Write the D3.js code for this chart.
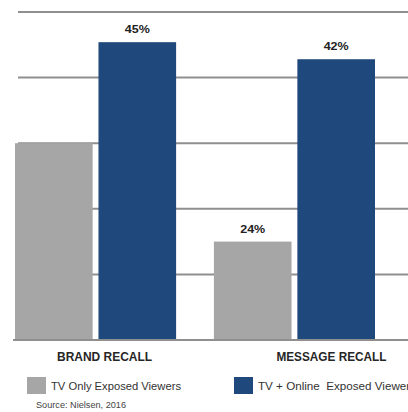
<!DOCTYPE html>
<html>
<head>
<meta charset="utf-8">
<script src="https://cdn.jsdelivr.net/npm/d3@7"></script>
<style>
  html, body { margin: 0; padding: 0; background: #fff; overflow: hidden; }
  svg { display: block; }
</style>
</head>
<body>
<script>
// ---- data ----
const categories = ["BRAND RECALL", "MESSAGE RECALL"];
const seriesNames = ["TV Only Exposed Viewers", "TV + Online  Exposed Viewers"];
const tvOnlyValues = [30, 15];        // bar heights as drawn
const tvOnlineValues = [45.4, 42.8];  // bar heights as drawn
const tvOnlyLabels = ["", "24%"];
const tvOnlineLabels = ["45%", "42%"];
const yTicks = [0, 10, 20, 30, 40, 50];
const sourceText = "Source: Nielsen, 2016";

const W = 408, H = 412;
const colors = ["#a6a6a6", "#1f487c"];

const svg = d3.select("body").append("svg").attr("width", W).attr("height", H);

const y = d3.scaleLinear().domain([0, 50]).range([340, 12]);
const x0 = d3.scaleBand().domain(categories).range([15, 375]).paddingInner(0.19).paddingOuter(0);
const x1 = d3.scaleBand().domain(seriesNames).range([0, x0.bandwidth()]).paddingInner(0.07);

// gridlines
svg.append("g").selectAll("line").data(yTicks.filter(t => t > 0)).join("line")
  .attr("x1", 18).attr("x2", W)
  .attr("y1", d => y(d)).attr("y2", d => y(d))
  .attr("stroke", "#8f8f8f").attr("stroke-width", 2);

const rows = categories.map((c, i) => ({
  cat: c,
  vals: [
    { s: seriesNames[0], v: tvOnlyValues[i], label: tvOnlyLabels[i], k: 0 },
    { s: seriesNames[1], v: tvOnlineValues[i], label: tvOnlineLabels[i], k: 1 }
  ]
}));

const groups = svg.append("g").selectAll("g").data(rows).join("g")
  .attr("transform", d => `translate(${x0(d.cat)},0)`);

groups.selectAll("rect").data(d => d.vals).join("rect")
  .attr("x", d => x1(d.s))
  .attr("y", d => y(d.v))
  .attr("width", x1.bandwidth())
  .attr("height", d => y(0) - y(d.v))
  .attr("fill", d => colors[d.k]);

groups.selectAll("text.val").data(d => d.vals.filter(v => v.label)).join("text")
  .attr("class", "val")
  .attr("x", d => x1(d.s) + x1.bandwidth() / 2)
  .attr("y", d => y(d.v) - 9)
  .attr("text-anchor", "middle")
  .attr("font-family", "'Liberation Sans Narrow', 'Liberation Sans', Arial, sans-serif")
  .attr("font-weight", "bold")
  .attr("font-size", 11.5)
  .attr("fill", "#222")
  .attr("textLength", 25).attr("lengthAdjust", "spacingAndGlyphs")
  .text(d => d.label);

// baseline
svg.append("line")
  .attr("x1", 13).attr("x2", W)
  .attr("y1", y(0)).attr("y2", y(0))
  .attr("stroke", "#8f8f8f").attr("stroke-width", 2);

// category labels
const catOffsets = [9, 37];
const catWidths = [95, 110];
svg.append("g").selectAll("text").data(categories).join("text")
  .attr("x", (d, i) => x0(d) + x0.bandwidth() / 2 + catOffsets[i] - catWidths[i] / 2)
  .attr("y", 361)
  .attr("font-family", "'Liberation Sans Narrow', 'Liberation Sans', Arial, sans-serif")
  .attr("font-weight", "bold")
  .attr("font-size", 12.5)
  .attr("fill", "#262626")
  .attr("textLength", (d, i) => catWidths[i]).attr("lengthAdjust", "spacingAndGlyphs")
  .text(d => d);

// legend
const legX = [27, 234];
const legW = [130, 158];
const leg = svg.append("g").selectAll("g").data(seriesNames).join("g")
  .attr("transform", (d, i) => `translate(${legX[i]},377)`);
leg.append("rect").attr("width", 19).attr("height", 17).attr("fill", (d, i) => colors[i]);
leg.append("text")
  .attr("x", 24).attr("y", 13)
  .attr("font-family", "'Liberation Sans Narrow', 'Liberation Sans', Arial, sans-serif")
  .attr("font-size", 11)
  .attr("fill", "#333")
  .attr("textLength", (d, i) => legW[i]).attr("lengthAdjust", "spacingAndGlyphs")
  .attr("xml:space", "preserve")
  .style("white-space", "pre")
  .text(d => d);

// source
svg.append("text")
  .attr("x", 36).attr("y", 408)
  .attr("font-family", "'Liberation Sans Narrow', 'Liberation Sans', Arial, sans-serif")
  .attr("font-size", 8.5)
  .attr("fill", "#444")
  .attr("textLength", 90).attr("lengthAdjust", "spacingAndGlyphs")
  .text(sourceText);
</script>
</body>
</html>
